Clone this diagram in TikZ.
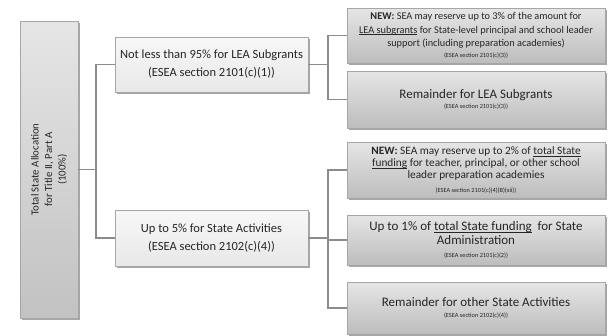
\documentclass[tikz,border=0pt]{standalone}
\usepackage{fontspec}
\setmainfont{Carlito}
\usetikzlibrary{shadows}
\definecolor{linegray}{HTML}{8C8C8C}
\definecolor{bordergray}{HTML}{A6A6A6}
\definecolor{txt}{HTML}{262626}
\newcommand\ulfix[1]{\setbox0\hbox{#1}\rlap{\rule[-1.6pt]{\wd0}{0.6pt}}\box0\relax}
\newcommand\esea[1]{{\fontsize{6.3}{7}\selectfont #1}}
\begin{document}
\begin{tikzpicture}[x=1pt,y=-1pt,
  boxbase/.style={draw=bordergray, line width=0.8pt, inner sep=2pt, align=center, text=txt,
    drop shadow={shadow xshift=1.8pt, shadow yshift=-1.8pt, fill=black, opacity=0.35}},
  rootbox/.style={boxbase, top color=black!10, bottom color=black!24, minimum width=58pt, minimum height=297pt},
  midbox/.style={boxbase, top color=black!3, bottom color=black!9, minimum width=193pt, minimum height=55pt, font=\fontsize{12.5}{18}\selectfont},
  rightbox/.style={boxbase, top color=black!10, bottom color=black!26, minimum width=258pt, minimum height=55pt},
  conn/.style={draw=linegray, line width=1.6pt}
]
\useasboundingbox (0,0) rectangle (613,335);

\node[rootbox] (root) at (49,169.5) {};
\node[rotate=90, align=center, text=txt, font=\fontsize{10.8}{13.5}\selectfont] (roottext) at (root.center)
  {Total State Allocation\\for Title II, Part A\\(100\%)};

\node[midbox] (mid1) at (211.5,64.5) {Not less than 95\% for LEA Subgrants\\(ESEA section 2101(c)(1))};
\node[midbox, minimum height=56pt] (mid2) at (211.5,238) {Up to 5\% for State Activities\\(ESEA section 2102(c)(4))};

\node[rightbox, font=\fontsize{10.3}{13.5}\selectfont] (r1) at (476,35.5)
  {\textbf{NEW:} SEA may reserve up to 3\% of the amount for\\
   \ulfix{LEA subgrants} for State-level principal and school leader\\
   support (including preparation academies)\\[-3pt]
   \esea{(ESEA section 2101(c)(3))}};
\node[rightbox, minimum height=57pt, font=\fontsize{13}{14}\selectfont] (r2) at (476,99.5)
  {Remainder for LEA Subgrants\\[-4pt]
   \esea{(ESEA section 2101(c)(3))}};
\node[rightbox, minimum height=56pt, font=\fontsize{11.3}{11.8}\selectfont] (r3) at (476,170)
  {\textbf{NEW:} SEA may reserve up to 2\% of \ulfix{total State}\\
   \ulfix{funding} for teacher, principal, or other school\\
   leader preparation academies\\[2pt]
   \esea{(ESEA section 2101(c)(4)(B)(xii))}};
\node[rightbox, minimum height=50pt, font=\fontsize{13}{13.5}\selectfont] (r4) at (476,240)
  {Up to 1\% of \ulfix{total State funding}\ \ for State\\
   Administration\\[0pt]
   \esea{(ESEA section 2101(c)(2))}};
\node[rightbox, minimum height=52pt, font=\fontsize{13}{14}\selectfont] (r5) at (476,308)
  {Remainder for other State Activities\\[-3pt]
   \esea{(ESEA section 2102(c)(4))}};

\coordinate (j1) at (96,169.5);
\coordinate (a1) at (328,64.5);
\coordinate (a2) at (328,238);

\draw[conn] (root.east) -- (j1);
\draw[conn] (mid1.west) -| (j1) |- (mid2.west);
\draw[conn] (mid1.east) -- (a1);
\draw[conn] (r1.west) -| (a1) |- (r2.west);
\draw[conn] (mid2.east) -- (a2);
\draw[conn] (r3.west) -| (a2) |- (r5.west);
\draw[conn] (a2) |- (r4.west);
\end{tikzpicture}
\end{document}
